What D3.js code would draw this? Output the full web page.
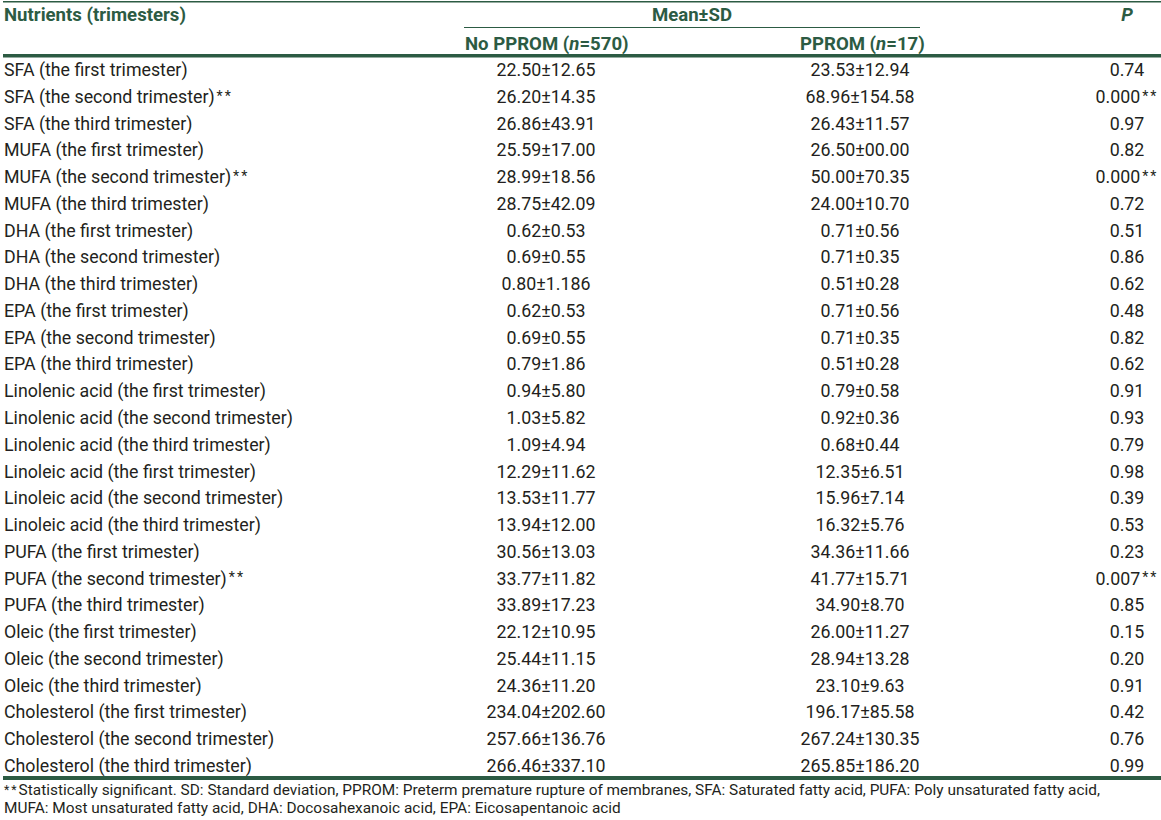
<!DOCTYPE html>
<html>
<head>
<meta charset="utf-8">
<title>Nutrients by trimester, PPROM vs no PPROM</title>
<script src="https://d3js.org/d3.v7.min.js"></script>
<style>
    body {
        margin: 0;
        background: #fff;
    }
    text {
        font-family: Roboto, "Noto Sans", sans-serif;
    }
</style>
</head>
<body>
<script>

// Table contents
var nutrients = ["SFA", "SFA", "SFA", "MUFA", "MUFA", "MUFA", "DHA", "DHA", "DHA",
    "EPA", "EPA", "EPA", "Linolenic acid", "Linolenic acid", "Linolenic acid",
    "Linoleic acid", "Linoleic acid", "Linoleic acid", "PUFA", "PUFA", "PUFA",
    "Oleic", "Oleic", "Oleic", "Cholesterol", "Cholesterol", "Cholesterol"];
var trimesters = ["first", "second", "third"];
var significant = [false, true, false, false, true, false, false, false, false,
    false, false, false, false, false, false, false, false, false, false, true, false,
    false, false, false, false, false, false];

var noPpromMean = ["22.50", "26.20", "26.86", "25.59", "28.99", "28.75", "0.62", "0.69", "0.80",
    "0.62", "0.69", "0.79", "0.94", "1.03", "1.09", "12.29", "13.53", "13.94",
    "30.56", "33.77", "33.89", "22.12", "25.44", "24.36", "234.04", "257.66", "266.46"];
var noPpromSd = ["12.65", "14.35", "43.91", "17.00", "18.56", "42.09", "0.53", "0.55", "1.186",
    "0.53", "0.55", "1.86", "5.80", "5.82", "4.94", "11.62", "11.77", "12.00",
    "13.03", "11.82", "17.23", "10.95", "11.15", "11.20", "202.60", "136.76", "337.10"];
var ppromMean = ["23.53", "68.96", "26.43", "26.50", "50.00", "24.00", "0.71", "0.71", "0.51",
    "0.71", "0.71", "0.51", "0.79", "0.92", "0.68", "12.35", "15.96", "16.32",
    "34.36", "41.77", "34.90", "26.00", "28.94", "23.10", "196.17", "267.24", "265.85"];
var ppromSd = ["12.94", "154.58", "11.57", "00.00", "70.35", "10.70", "0.56", "0.35", "0.28",
    "0.56", "0.35", "0.28", "0.58", "0.36", "0.44", "6.51", "7.14", "5.76",
    "11.66", "15.71", "8.70", "11.27", "13.28", "9.63", "85.58", "130.35", "186.20"];
var pValues = ["0.74", "0.000", "0.97", "0.82", "0.000", "0.72", "0.51", "0.86", "0.62",
    "0.48", "0.82", "0.62", "0.91", "0.93", "0.79", "0.98", "0.39", "0.53",
    "0.23", "0.007", "0.85", "0.15", "0.20", "0.91", "0.42", "0.76", "0.99"];

var footnote = [
    "Statistically significant. SD: Standard deviation, PPROM: Preterm premature rupture of membranes, SFA: Saturated fatty acid, PUFA: Poly unsaturated fatty acid,",
    "MUFA: Most unsaturated fatty acid, DHA: Docosahexanoic acid, EPA: Eicosapentanoic acid"
];

var width = 1161,
    height = 820;

var green = "#2c5b43",
    ink = "#231f20";

var svg = d3.select("body")
    .append("svg")
    .attr("width", width)
    .attr("height", height);

var rows = nutrients.map(function(n, i) {
    return {
        label: n + " (the " + trimesters[i % 3] + " trimester)",
        a: noPpromMean[i] + "±" + noPpromSd[i],
        b: ppromMean[i] + "±" + ppromSd[i],
        p: pValues[i],
        sig: significant[i]
    };
});

// row baselines
var y = d3.scaleLinear()
    .domain([0, rows.length - 1])
    .range([76, 772]);

// column positions
var col = { label: 4, a: 546, b: 860, p: 1127 };

// small spaced, raised asterisks like the print version
function stars(sel) {
    sel.append("tspan")
        .attr("font-size", "0.8em")
        .attr("dy", "-0.15em")
        .attr("dx", "2")
        .attr("letter-spacing", "2px")
        .text("**");
}

// rules
svg.append("rect").attr("x", 3).attr("y", 1).attr("width", width - 3).attr("height", 1.5).attr("fill", green);
svg.append("rect").attr("x", 464).attr("y", 27).attr("width", 456).attr("height", 1).attr("fill", green);
svg.append("rect").attr("x", 3).attr("y", 54).attr("width", width - 3).attr("height", 3.5).attr("fill", green);
svg.append("rect").attr("x", 3).attr("y", 776).attr("width", width - 3).attr("height", 4).attr("fill", green);

// header
var head = svg.append("g")
    .attr("fill", green)
    .attr("font-weight", "bold")
    .attr("font-size", "18.6px");

head.append("text").attr("x", col.label).attr("y", 21).text("Nutrients (trimesters)");
head.append("text").attr("x", 692).attr("y", 21).attr("text-anchor", "middle").text("Mean±SD");
head.append("text").attr("x", col.p).attr("y", 21).attr("text-anchor", "middle")
    .attr("font-style", "italic").text("P");

var h1 = head.append("text").attr("x", 465).attr("y", 50);
h1.append("tspan").text("No PPROM (");
h1.append("tspan").attr("font-style", "italic").text("n");
h1.append("tspan").text("=570)");

var h2 = head.append("text").attr("x", 800).attr("y", 50);
h2.append("tspan").text("PPROM (");
h2.append("tspan").attr("font-style", "italic").text("n");
h2.append("tspan").text("=17)");

// body rows
var body = svg.append("g")
    .attr("fill", ink)
    .attr("font-size", "17.8px");

var r = body.selectAll("g.row")
    .data(rows)
    .enter()
    .append("g")
    .attr("class", "row")
    .attr("transform", function(d, i) { return "translate(0," + y(i) + ")"; });

var lab = r.append("text").attr("x", col.label).text(function(d) { return d.label; });
lab.filter(function(d) { return d.sig; }).call(stars);
r.append("text").attr("x", col.a).attr("text-anchor", "middle").text(function(d) { return d.a; });
r.append("text").attr("x", col.b).attr("text-anchor", "middle").text(function(d) { return d.b; });
var pv = r.append("text").attr("x", col.p).attr("text-anchor", "middle").text(function(d) { return d.p; });
pv.filter(function(d) { return d.sig; }).call(stars);

// footnote
var fn = svg.append("g")
    .attr("fill", ink)
    .attr("font-size", "15.4px")
    .selectAll("text")
    .data(footnote)
    .enter()
    .append("text")
    .attr("x", 4)
    .attr("y", function(d, i) { return 795 + i * 18; });

fn.filter(function(d, i) { return i === 0; })
    .append("tspan")
    .attr("font-size", "0.8em")
    .attr("letter-spacing", "2px")
    .attr("dy", "-0.1em")
    .text("**");
fn.append("tspan")
    .attr("dy", function(d, i) { return i === 0 ? "0.1em" : null; })
    .text(function(d) { return d; });

</script>
</body>
</html>
